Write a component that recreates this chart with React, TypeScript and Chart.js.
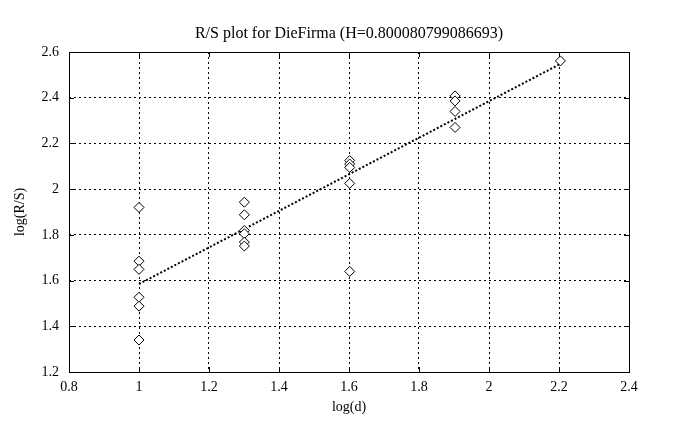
import React, { useEffect, useRef } from "react";
import { Chart, registerables } from "chart.js";

Chart.register(...registerables);

const titleText = "R/S plot for DieFirma (H=0.800080799086693)";
const xLabel = "log(d)";
const yLabel = "log(R/S)";

const pointsX = [
  1, 1, 1, 1, 1, 1,
  1.301, 1.301, 1.301, 1.301, 1.301, 1.301,
  1.602, 1.602, 1.602, 1.602, 1.602,
  1.903, 1.903, 1.903, 1.903,
  2.204,
];
const pointsY = [
  1.92, 1.685, 1.649, 1.527, 1.488, 1.34,
  1.943, 1.888, 1.819, 1.805, 1.768, 1.751,
  2.125, 2.11, 2.095, 2.025, 1.64,
  2.408, 2.386, 2.34, 2.27,
  2.561,
];
const lineX = [1, 2.204];
const lineY = [1.585, 2.548];

const FONT = "'Liberation Serif', 'Times New Roman', serif";

const framePlugin = {
  id: "frameAndText",
  afterDraw(chart: any) {
    const { ctx, chartArea } = chart;
    const { left, right, top, bottom } = chartArea;
    ctx.save();
    ctx.strokeStyle = "#000";
    ctx.lineWidth = 1;
    ctx.setLineDash([]);
    ctx.strokeRect(Math.round(left) + 0.5, Math.round(top) + 0.5, Math.round(right - left), Math.round(bottom - top));
    const xs = chart.scales.x;
    const ys = chart.scales.y;
    ctx.beginPath();
    xs.ticks.forEach((t: any) => {
      const px = Math.round(xs.getPixelForValue(t.value)) + 0.5;
      ctx.moveTo(px, bottom);
      ctx.lineTo(px, bottom - 5);
      ctx.moveTo(px, top);
      ctx.lineTo(px, top + 5);
    });
    ys.ticks.forEach((t: any) => {
      const py = Math.round(ys.getPixelForValue(t.value)) + 0.5;
      ctx.moveTo(left, py);
      ctx.lineTo(left + 5, py);
      ctx.moveTo(right, py);
      ctx.lineTo(right - 5, py);
    });
    ctx.stroke();
    ctx.fillStyle = "#000";
    ctx.textAlign = "center";
    ctx.textBaseline = "middle";
    ctx.font = `16px ${FONT}`;
    const cx = (left + right) / 2;
    ctx.fillText(titleText, cx, 34);
    ctx.font = `14px ${FONT}`;
    ctx.fillText(xLabel, cx, 407);
    ctx.translate(20, (top + bottom) / 2);
    ctx.rotate(-Math.PI / 2);
    ctx.fillText(yLabel, 0, 0);
    ctx.restore();
  },
};

export default function App() {
  const ref = useRef<HTMLCanvasElement>(null);
  useEffect(() => {
    if (!ref.current) return;
    const fmt = (v: any) => Number(Number(v).toFixed(1)).toString();
    const chart = new Chart(ref.current, {
      type: "scatter",
      data: {
        datasets: [
          {
            data: pointsX.map((x, i) => ({ x, y: pointsY[i] })),
            pointStyle: "rectRot",
            radius: 5,
            borderColor: "#000",
            backgroundColor: "#fff",
            borderWidth: 1,
            showLine: false,
          },
          {
            data: lineX.map((x, i) => ({ x, y: lineY[i] })),
            showLine: true,
            pointRadius: 0,
            borderColor: "#000",
            borderWidth: 2,
            borderDash: [2, 2],
          },
        ],
      },
      options: {
        responsive: false,
        animation: false,
        layout: { padding: { top: 52, right: 57, bottom: 0, left: 0 } },
        plugins: {
          legend: { display: false },
          tooltip: { enabled: false },
          title: { display: false },
        },
        scales: {
          x: {
            type: "linear",
            min: 0.8,
            max: 2.4,
            ticks: {
              stepSize: 0.2,
              color: "#000",
              font: { family: FONT, size: 14 },
              padding: 7,
              callback: fmt,
              maxRotation: 0,
            },
            grid: {
              color: "#000",
              lineWidth: 1,
              drawTicks: false,
              tickLength: 0,
            },
            border: { display: false, dash: [2, 3] },
            afterFit: (s: any) => {
              s.height = 58;
            },
          },
          y: {
            type: "linear",
            min: 1.2,
            max: 2.6,
            ticks: {
              stepSize: 0.2,
              color: "#000",
              font: { family: FONT, size: 14 },
              padding: 10,
              callback: fmt,
            },
            grid: {
              color: "#000",
              lineWidth: 1,
              drawTicks: false,
              tickLength: 0,
            },
            border: { display: false, dash: [2, 3] },
            afterFit: (s: any) => {
              s.width = 69;
            },
          },
        },
      },
      plugins: [framePlugin],
    } as any);
    return () => chart.destroy();
  }, []);
  return (
    <div style={{ position: "fixed", left: 0, top: 0, width: 686, height: 430, background: "#fff" }}>
      <canvas ref={ref} width={686} height={430} style={{ width: 686, height: 430 }} />
    </div>
  );
}
